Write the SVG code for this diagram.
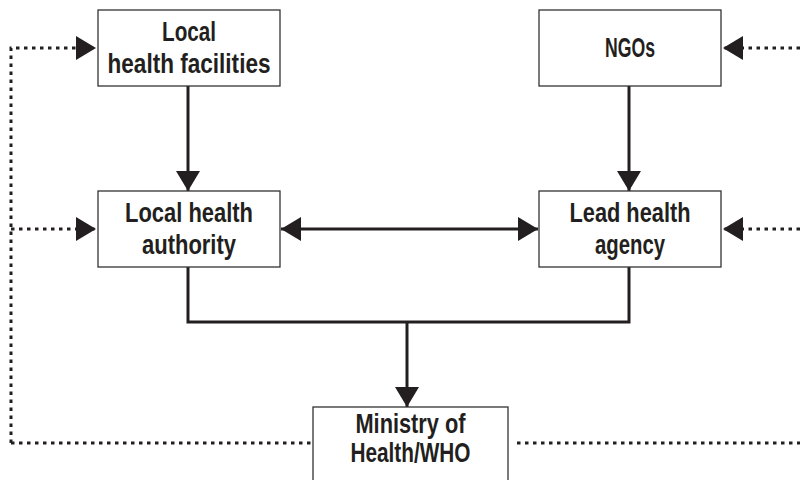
<svg xmlns="http://www.w3.org/2000/svg" width="800" height="480" viewBox="0 0 800 480">
<style>
.box{fill:#fff;stroke:#333;stroke-width:1.3}
.t{font-family:"Liberation Sans",Arial,sans-serif;font-weight:bold;font-size:28px;fill:#231f20;text-anchor:middle}
.solid{fill:none;stroke:#231f20;stroke-width:3}
.dot{fill:none;stroke:#231f20;stroke-width:3;stroke-dasharray:3.5 4.5}
</style>
<defs>
<marker id="ah" markerUnits="userSpaceOnUse" viewBox="0 0 20 24" markerWidth="20" markerHeight="24" refX="20" refY="12" orient="auto-start-reverse">
<path d="M0,0 L20,12 L0,24 Z" fill="#231f20"/>
</marker>
</defs>
<rect width="800" height="480" fill="#fff"/>
<g id="connectors">
<path class="dot" d="M11,443 L11,48 L96,48" marker-end="url(#ah)"/>
<path class="dot" d="M11,229 L96,229" marker-end="url(#ah)"/>
<path class="dot" d="M11,443 L313,443"/>
<path class="dot" d="M800,48 L723,48" marker-end="url(#ah)"/>
<path class="dot" d="M800,229 L723,229" marker-end="url(#ah)"/>
<path class="dot" d="M517,443 L800,443"/>
<path class="solid" d="M188,86 L188,191" marker-end="url(#ah)"/>
<path class="solid" d="M629,86 L629,191" marker-end="url(#ah)"/>
<path class="solid" d="M281,229 L538,229" marker-start="url(#ah)" marker-end="url(#ah)"/>
<path class="solid" d="M188,267 L188,322 L629,322 L629,267"/>
<path class="solid" d="M407,322 L407,407" marker-end="url(#ah)"/>
</g>
<g id="local-health-facilities">
<rect class="box" x="98" y="10" width="182" height="76"/>
<text class="t" x="189" y="41" textLength="54" lengthAdjust="spacingAndGlyphs">Local</text>
<text class="t" x="189" y="73" textLength="163" lengthAdjust="spacingAndGlyphs">health facilities</text>
</g>
<g id="ngos">
<rect class="box" x="539" y="10" width="182" height="76"/>
<text class="t" x="630" y="57" textLength="50" lengthAdjust="spacingAndGlyphs">NGOs</text>
</g>
<g id="local-health-authority">
<rect class="box" x="98" y="191" width="182" height="76"/>
<text class="t" x="189" y="222" textLength="128" lengthAdjust="spacingAndGlyphs">Local health</text>
<text class="t" x="189" y="254" textLength="94" lengthAdjust="spacingAndGlyphs">authority</text>
</g>
<g id="lead-health-agency">
<rect class="box" x="539" y="191" width="182" height="76"/>
<text class="t" x="630" y="222" textLength="121" lengthAdjust="spacingAndGlyphs">Lead health</text>
<text class="t" x="630" y="254" textLength="70" lengthAdjust="spacingAndGlyphs">agency</text>
</g>
<g id="ministry">
<rect class="box" x="313" y="407" width="195" height="90"/>
<text class="t" x="410.5" y="433" textLength="110" lengthAdjust="spacingAndGlyphs">Ministry of</text>
<text class="t" x="410.5" y="462" textLength="120" lengthAdjust="spacingAndGlyphs">Health/WHO</text>
</g>
</svg>
